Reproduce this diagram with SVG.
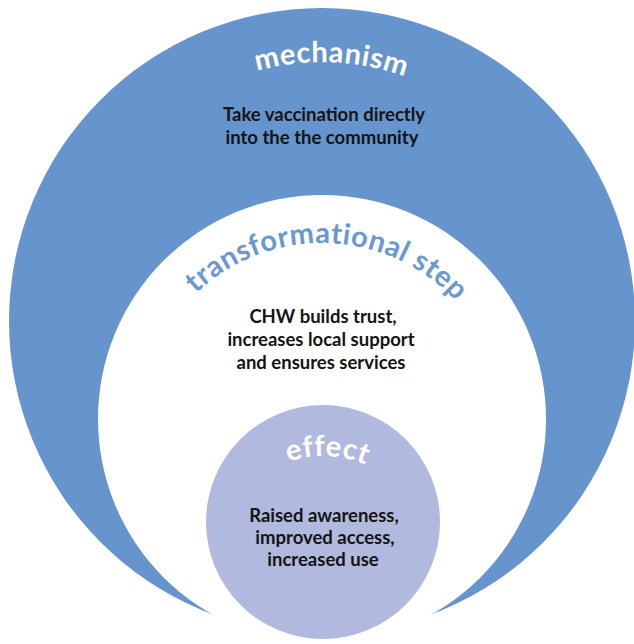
<svg xmlns="http://www.w3.org/2000/svg" width="634" height="644" viewBox="0 0 634 644">
<style>
.title{font-family:Lato,"Open Sans","Liberation Sans",sans-serif;font-size:29px;font-weight:bold;letter-spacing:0.6px;}
.white{fill:#ffffff;}
.blue{fill:#6a98d0;}
.body{font-family:Lato,"Open Sans","Liberation Sans",sans-serif;font-size:18.5px;font-weight:bold;fill:#141414;text-anchor:middle;}
</style>
<defs>
<path id="arcMech" d="M 77 307 A 245 245 0 0 1 567 307"/>
<path id="arcTrans" d="M 139 426 A 183 183 0 0 1 505 426"/>
<path id="arcEff" d="M 213 566 A 110 110 0 0 1 433 566"/>
</defs>
<rect width="634" height="644" fill="#ffffff"/>
<g id="mechanism">
<circle cx="322" cy="321" r="313" fill="#6694cd"/>
<text class="title white"><textPath href="#arcMech" startOffset="394" text-anchor="middle">mechanism</textPath></text>
<text class="body" x="324" y="121">Take vaccination directly</text>
<text class="body" x="322" y="144">into the the community</text>
</g>
<g id="transformational-step">
<circle cx="322" cy="419" r="224" fill="#ffffff"/>
<text class="title blue"><textPath href="#arcTrans" startOffset="293" text-anchor="middle">transformational step</textPath></text>
<text class="body" x="323" y="323">CHW builds trust,</text>
<text class="body" x="321" y="346">increases local support</text>
<text class="body" x="321" y="369">and ensures services</text>
</g>
<g id="effect">
<circle cx="323" cy="522" r="117" fill="#b1b9de"/>
<text class="title white"><textPath href="#arcEff" startOffset="177" text-anchor="middle">effect</textPath></text>
<text class="body" x="324" y="522">Raised awareness,</text>
<text class="body" x="325" y="544">improved access,</text>
<text class="body" x="323" y="566">increased use</text>
</g>
<g id="connectors"></g>
</svg>
